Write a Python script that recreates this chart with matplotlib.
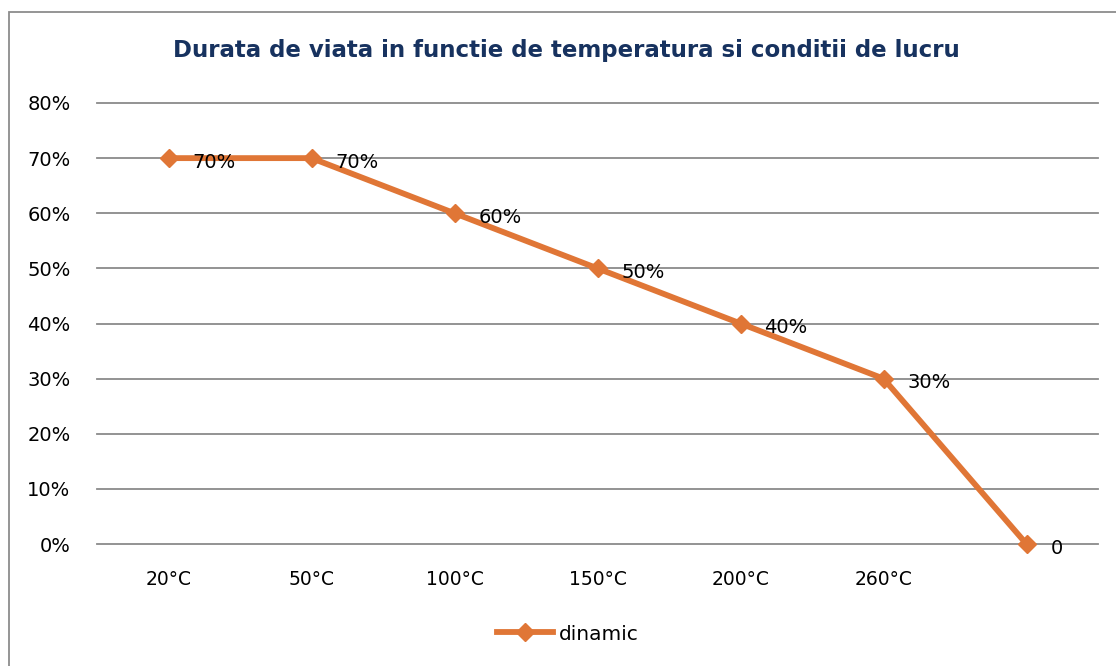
import matplotlib
matplotlib.use("Agg")
import matplotlib.pyplot as plt
from matplotlib.patches import Rectangle

categories = ["20°C", "50°C", "100°C", "150°C", "200°C", "260°C", ""]
values = [0.70, 0.70, 0.60, 0.50, 0.40, 0.30, 0.0]
point_labels = ["70%", "70%", "60%", "50%", "40%", "30%", "0"]
yticks = [0.0, 0.1, 0.2, 0.3, 0.4, 0.5, 0.6, 0.7, 0.8]
series_name = "dinamic"
title = "Durata de viata in functie de temperatura si conditii de lucru"

W, H = 1116, 666
fig = plt.figure(figsize=(W / 100, H / 100), dpi=100)
fig.patch.set_facecolor("white")

# outer chart border
fig.patches.append(Rectangle((9 / W, -0.05), 1.2, (H - 12) / H + 0.05,
                             transform=fig.transFigure, fill=False,
                             edgecolor="#8c8c8c", linewidth=1.3))

ax = fig.add_axes([97 / W, (H - 544) / H, (1098 - 97) / W, (544 - 103) / H])
line_color = "#E07636"
x = [i + 0.5 for i in range(len(categories))]
ax.plot(x, values, color=line_color, linewidth=4.2, marker="D", markersize=9,
        markeredgecolor=line_color, markerfacecolor=line_color, label=series_name,
        zorder=3, clip_on=False)
for xi, v, lab in zip(x, values, point_labels):
    ax.annotate(lab, (xi, v), textcoords="offset pixels", xytext=(24, -4),
                ha="left", va="center", fontsize=14, color="black")

ax.set_xlim(0, len(categories))
ax.set_ylim(0, 0.8)
ax.set_yticks(yticks)
ax.set_yticklabels([f"{int(round(t * 100))}%" for t in yticks], fontsize=14)
ax.set_xticks(x)
ax.set_xticklabels(categories, fontsize=13.5)
ax.tick_params(axis="both", length=0)
ax.tick_params(axis="y", pad=19)
ax.tick_params(axis="x", pad=19)
ax.grid(axis="y", color="#8a8a8a", linewidth=1.3)
for gl in ax.get_ygridlines():
    gl.set_clip_on(False)
ax.set_axisbelow(True)
for s in ax.spines.values():
    s.set_visible(False)

fig.text(566 / W, 1 - 50 / H, title, ha="center", va="center",
         fontsize=16.5, fontweight="bold", color="#17325F")

leg = fig.legend(loc="center", bbox_to_anchor=(568 / W, 1 - 634 / H), frameon=False,
                 fontsize=14.5, handlelength=2.8, handletextpad=0.3)

fig.savefig("out.png", dpi=100, facecolor="white")
